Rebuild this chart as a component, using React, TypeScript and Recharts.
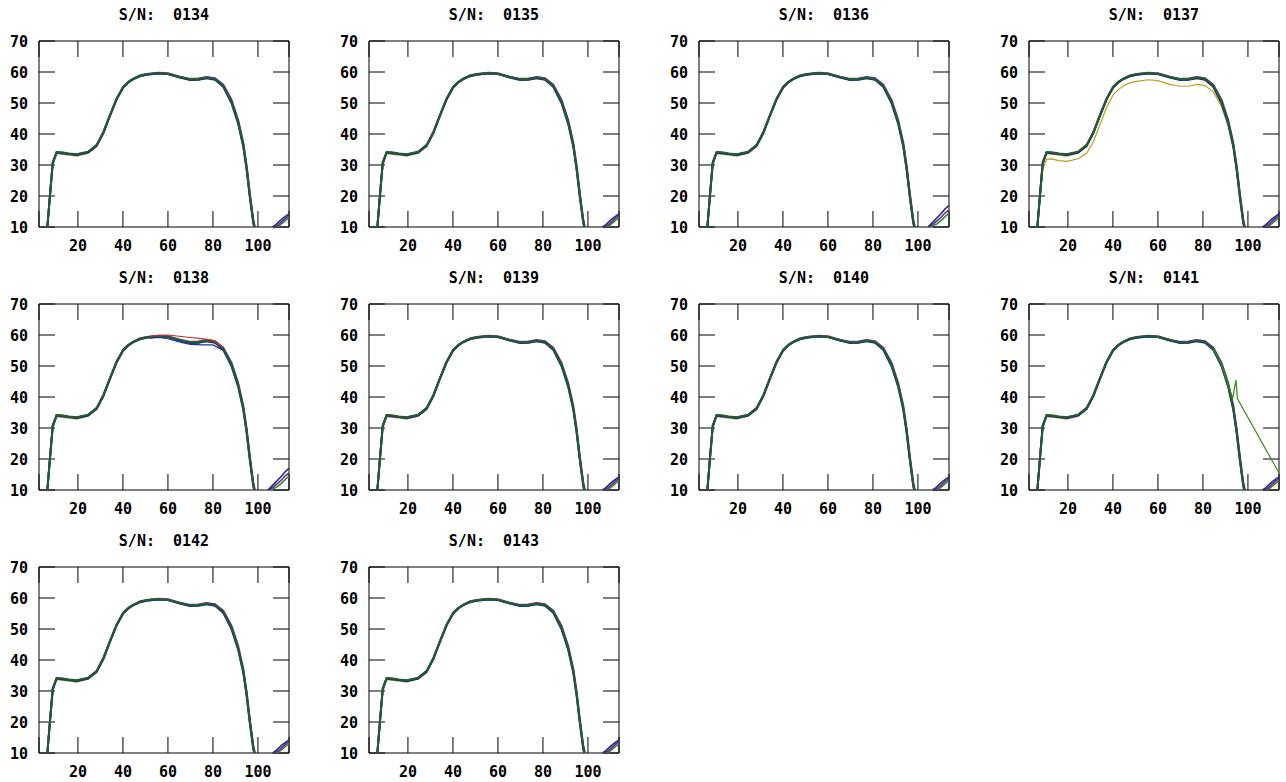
import React from 'react';
import { LineChart, Line, XAxis, YAxis, ReferenceArea, CartesianGrid } from 'recharts';

// serial numbers, one small plot each (4 per row)
const SERIALS = ['0134', '0135', '0136', '0137', '0138', '0139', '0140', '0141', '0142', '0143'];

const X_TICKS = [20, 40, 60, 80, 100];
const Y_TICKS = [10, 20, 30, 40, 50, 60, 70];
const X_DOMAIN = [2.7, 113.8];
const Y_DOMAIN = [10, 70];

// sample positions along one sweep
const SWEEP_X = [6.4, 7.6, 8.8, 10.5, 12.7, 16, 19.5, 24.5, 28.3, 31.3, 34.2, 37.2, 40.1, 42.5, 44.6, 47.5, 50.5, 55.7, 60, 65.3, 69.8, 73.5, 77.2, 80.9, 84.6, 88.3, 91.2, 93.5, 95, 96.4, 97.9, 98.8];

// overlaid runs, nearly on top of each other
const RUN_GREEN = [10, 20.3, 30.5, 34.2, 34.1, 33.7, 33.5, 34.3, 36.5, 40.7, 46.1, 51.5, 55.3, 56.9, 57.9, 58.8, 59.3, 59.7, 59.4, 58.4, 57.7, 57.7, 58.2, 57.8, 55.6, 50.4, 44.0, 36.5, 29.0, 20.3, 12.0, 9.0];
const RUN_BLUE = [9.5, 20.8, 31.0, 34.0, 33.8, 33.5, 33.2, 34.0, 36.2, 40.3, 45.8, 51.2, 55.0, 56.7, 57.7, 58.6, 59.1, 59.5, 59.3, 58.2, 57.4, 57.5, 58.0, 57.5, 55.2, 50.0, 43.5, 36.0, 28.4, 19.8, 11.5, 8.5];
const RUN_PURPLE = [10, 20.0, 30.2, 33.9, 33.9, 33.6, 33.3, 34.1, 36.4, 40.6, 46.0, 51.4, 55.1, 56.8, 57.8, 58.9, 59.4, 59.8, 59.6, 58.5, 57.8, 57.9, 58.4, 58.0, 55.9, 51.0, 44.6, 37.2, 29.8, 21.0, 12.6, 9.5];
const RUN_YELLOW = [10.5, 20.5, 30.8, 33.8, 33.6, 33.3, 33.0, 33.9, 36.0, 40.2, 45.6, 51.1, 54.9, 56.6, 57.6, 58.6, 59.2, 59.6, 59.4, 58.3, 57.6, 57.6, 58.1, 57.6, 55.4, 50.2, 43.7, 36.3, 28.7, 20.0, 11.8, 8.8];
const RUN_TEAL = [9.8, 20.6, 30.6, 34.1, 34.0, 33.6, 33.4, 34.2, 36.3, 40.4, 45.9, 51.3, 55.2, 56.8, 57.8, 58.7, 59.2, 59.6, 59.3, 58.3, 57.6, 57.6, 58.1, 57.7, 55.3, 49.8, 43.2, 35.7, 28.1, 19.5, 11.2, 8.3];

// 0137: one run sits lower
const LOW_0137 = [10, 19.0, 28.5, 31.8, 32.0, 31.4, 31.2, 32.0, 33.8, 37.5, 43.0, 48.6, 52.6, 54.4, 55.5, 56.5, 57.0, 57.5, 57.2, 56.0, 55.4, 55.4, 56.0, 55.6, 53.6, 48.8, 42.6, 35.5, 28.2, 19.8, 11.6, 8.8];

// 0138: spread on the upper plateau
const SPREAD_X = [52, 56, 60, 65, 70, 75, 80, 84.6];
const SPREAD_HI = [59.6, 59.9, 60.0, 59.6, 59.2, 58.8, 58.3, 56.0];
const SPREAD_LO = [59.0, 59.2, 58.8, 57.8, 57.0, 56.8, 56.8, 55.0];

// 0141: one run breaks away on the way down
const ODD_X = [84.6, 88.3, 91.2, 93.2, 94.7, 95.3, 113.8];
const ODD_Y = [55.6, 50.4, 44.0, 39.5, 45.5, 39.5, 15.5];

// start of the next sweep at the right edge
const TAIL_X = [106.5, 108, 109.5, 111, 112.5, 113.8];
const TAIL_A = [10, 10.8, 11.8, 12.8, 13.6, 14.2];
const TAIL_B = [10, 10.2, 11.0, 12.0, 13.0, 13.6];
const TAIL_C = [9.5, 10, 10.5, 11.3, 12.3, 13.0];
const TALL_X = [104.5, 106.5, 108.5, 110.5, 112, 113.8];
const TALL_A = [10, 11.5, 13.0, 14.5, 15.8, 17.0];
const TALL_B = [10, 10.8, 12.0, 13.3, 14.5, 15.5];
const TALL_C = [10, 10.3, 11.0, 12.2, 13.3, 14.5];

const CHART_W = 296;
const CHART_H = 256;
const PLOT_LEFT = 39;
const PLOT_TOP = 41;
const PLOT_W = 250;
const PLOT_H = 186;
const PLOT_RIGHT = PLOT_LEFT + PLOT_W;
const PLOT_BOTTOM = PLOT_TOP + PLOT_H;
const TICK_LEN = 16;

const FONT: React.CSSProperties = {
  fontFamily: '"DejaVu Sans Mono", monospace',
  fontWeight: 'bold',
  fontSize: 15,
  fill: '#000',
};

const pts = (xs: number[], ys: number[]) => xs.map((x, i) => ({ x, y: ys[i] }));

const XTick = (props: any) => {
  const { x, payload } = props;
  return (
    <text x={x} y={PLOT_BOTTOM + 19} textAnchor="middle" dominantBaseline="central" style={FONT}>
      {payload.value}
    </text>
  );
};

const YTick = (props: any) => {
  const { y, payload } = props;
  return (
    <text x={PLOT_LEFT - 11} y={y + 1} textAnchor="end" dominantBaseline="central" style={FONT}>
      {payload.value}
    </text>
  );
};

const line = (key: string, data: { x: number; y: number }[], color: string, width = 1.9) => (
  <Line
    key={key}
    data={data}
    dataKey="y"
    type="linear"
    stroke={color}
    strokeWidth={width}
    dot={false}
    activeDot={false}
    isAnimationActive={false}
  />
);

// grid lines dashed so only the inward tick stubs at both ends remain
const V_DASH = `${TICK_LEN} ${PLOT_H - 2 * TICK_LEN} ${TICK_LEN}`;
const H_DASH = `${TICK_LEN} ${PLOT_W - 2 * TICK_LEN} ${TICK_LEN}`;

const Panel = ({ serial, left, top }: { serial: string; left: number; top: number }) => {
  const tall = serial === '0138' || serial === '0136';
  const tx = tall ? TALL_X : TAIL_X;
  return (
    <div style={{ position: 'absolute', left, top, width: CHART_W, height: CHART_H }}>
      <div
        style={{
          position: 'absolute',
          left: PLOT_LEFT,
          width: PLOT_W,
          top: 6,
          textAlign: 'center',
          whiteSpace: 'pre',
          fontFamily: '"DejaVu Sans Mono", monospace',
          fontWeight: 'bold',
          fontSize: 15,
          lineHeight: '18px',
        }}
      >
        {'S/N:  ' + serial}
      </div>
      <LineChart width={CHART_W} height={CHART_H} margin={{ top: PLOT_TOP, right: CHART_W - PLOT_RIGHT, bottom: 0, left: 0 }}>
        <CartesianGrid horizontal={false} stroke="#000" strokeOpacity={1} strokeDasharray={V_DASH} />
        <CartesianGrid vertical={false} stroke="#000" strokeOpacity={1} strokeDasharray={H_DASH} />
        <XAxis
          type="number"
          dataKey="x"
          domain={X_DOMAIN}
          allowDataOverflow
          ticks={X_TICKS}
          interval={0}
          height={CHART_H - PLOT_BOTTOM}
          tickSize={0}
          tickMargin={0}
          tickLine={false}
          axisLine={false}
          tick={<XTick />}
        />
        <YAxis
          type="number"
          domain={Y_DOMAIN}
          allowDataOverflow
          ticks={Y_TICKS}
          interval={0}
          width={PLOT_LEFT}
          tickSize={0}
          tickMargin={0}
          tickLine={false}
          axisLine={false}
          tick={<YTick />}
        />
        <ReferenceArea x1={X_DOMAIN[0]} x2={X_DOMAIN[1]} y1={Y_DOMAIN[0]} y2={Y_DOMAIN[1]} fill="none" stroke="#000" strokeWidth={1} ifOverflow="visible" />
        {line('tc', pts(tx, tall ? TALL_C : TAIL_C), '#2a8a3a', 1.6)}
        {line('tb', pts(tx, tall ? TALL_B : TAIL_B), '#7a2a78', 1.6)}
        {line('ta', pts(tx, tall ? TALL_A : TAIL_A), '#1c2e8c', 1.6)}
        {serial === '0137' && line('low', pts(SWEEP_X, LOW_0137), '#b8a01c', 1.2)}
        {line('y', pts(SWEEP_X, RUN_YELLOW), '#b3a22a')}
        {line('p', pts(SWEEP_X, RUN_PURPLE), '#7a2a78')}
        {line('t', pts(SWEEP_X, RUN_TEAL), '#1f8a96')}
        {line('b', pts(SWEEP_X, RUN_BLUE), '#1c2e8c')}
        {line('g', pts(SWEEP_X, RUN_GREEN), '#245c2c')}
        {serial === '0138' && line('hi', pts(SPREAD_X, SPREAD_HI), '#c03030', 1.2)}
        {serial === '0138' && line('lo', pts(SPREAD_X, SPREAD_LO), '#2030a0', 1.2)}
        {serial === '0141' && line('odd', pts(ODD_X, ODD_Y), '#3a8a1a', 1.2)}
      </LineChart>
    </div>
  );
}

export default function App() {
  return (
    <div style={{ position: 'absolute', left: 0, top: 0, width: 1286, height: 782, overflow: 'hidden', background: '#fff' }}>
      {SERIALS.map((s, i) => (
        <Panel key={s} serial={s} left={(i % 4) * 330} top={Math.floor(i / 4) * 263} />
      ))}
    </div>
  );
}
